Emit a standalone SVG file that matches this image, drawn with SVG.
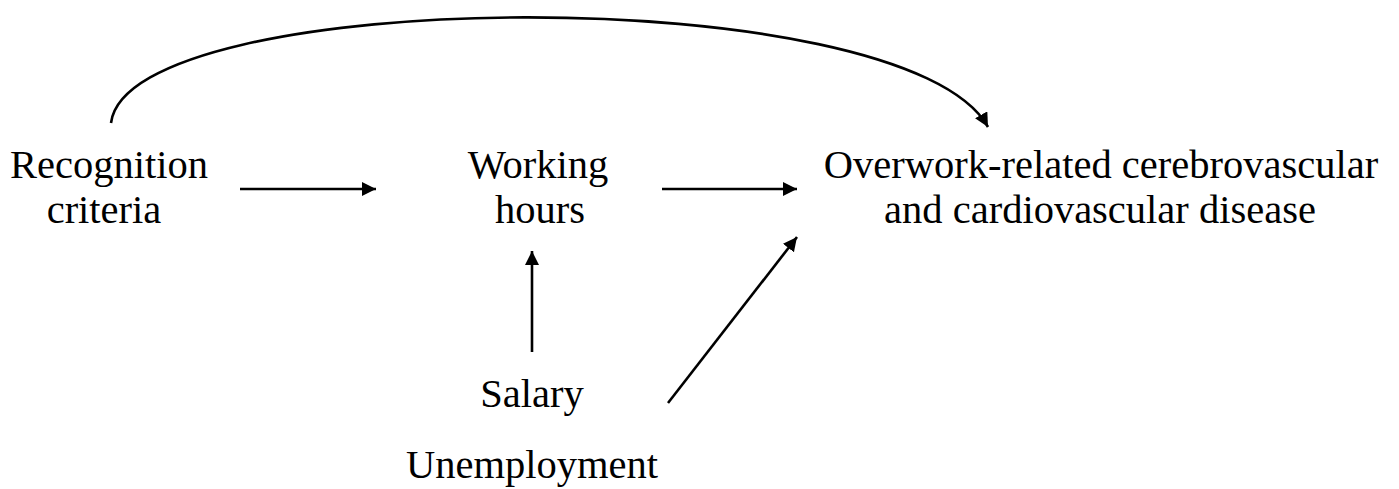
<svg xmlns="http://www.w3.org/2000/svg" width="1399" height="489" viewBox="0 0 1399 489">
  <style>
    text { font-family: "Liberation Serif", "Times New Roman", serif; font-size: 40.5px; fill: #000; text-anchor: middle; }
    .edge { fill: none; stroke: #000; stroke-width: 2.6; }
  </style>
  <defs>
    <marker id="arrow" markerUnits="userSpaceOnUse" markerWidth="16" markerHeight="16" refX="14" refY="7" orient="auto">
      <path d="M0,0 L14,7 L0,14 Z" fill="#000"/>
    </marker>
  </defs>
  <rect width="1399" height="489" fill="#fff"/>
  <g id="connectors">
    <path class="edge" d="M111,123 C128,-15 905,-22 988,127" marker-end="url(#arrow)"/>
    <line class="edge" x1="240" y1="189" x2="376" y2="189" marker-end="url(#arrow)"/>
    <line class="edge" x1="662" y1="189" x2="797" y2="189" marker-end="url(#arrow)"/>
    <line class="edge" x1="532" y1="352" x2="532" y2="251" marker-end="url(#arrow)"/>
    <line class="edge" x1="668" y1="403" x2="797" y2="237" marker-end="url(#arrow)"/>
  </g>
  <g id="node-recognition">
    <text x="109" y="178">Recognition</text>
    <text x="104" y="223">criteria</text>
  </g>
  <g id="node-working">
    <text x="538" y="178">Working</text>
    <text x="540" y="223">hours</text>
  </g>
  <g id="node-overwork">
    <text x="1101" y="178">Overwork-related cerebrovascular</text>
    <text x="1100" y="223">and cardiovascular disease</text>
  </g>
  <g id="node-salary">
    <text x="532" y="407">Salary</text>
  </g>
  <g id="node-unemployment">
    <text x="532" y="478">Unemployment</text>
  </g>
</svg>
